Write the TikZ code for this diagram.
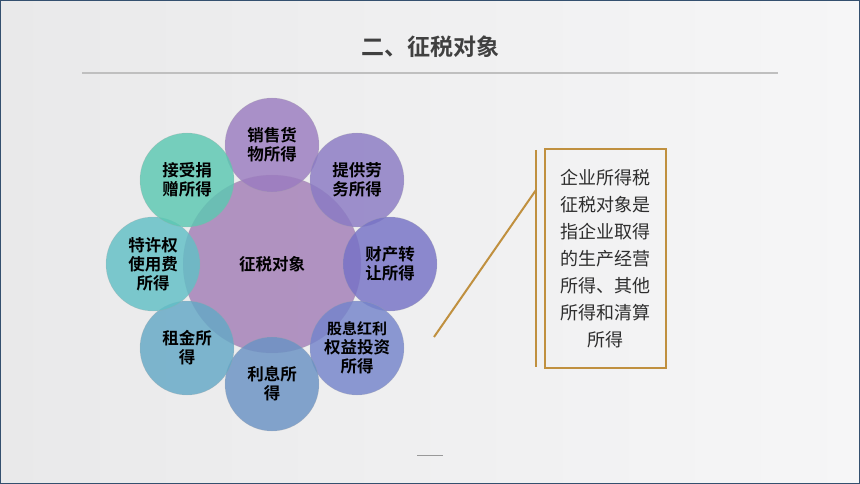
\documentclass[tikz,border=0pt]{standalone}
\usepackage{fontspec}
\setmainfont[BoldFont={Noto Sans CJK SC Bold}]{Noto Sans CJK SC}
\definecolor{bgA}{HTML}{E9E9EA}
\definecolor{bgB}{HTML}{F6F6F7}
\definecolor{frame}{HTML}{34506F}
\definecolor{gold}{HTML}{C0903F}
\definecolor{cCenter}{HTML}{A683B9}
\definecolor{c1}{HTML}{9B7CC0}
\definecolor{c2}{HTML}{8A7AC4}
\definecolor{c3}{HTML}{7672C6}
\definecolor{c4}{HTML}{7484CB}
\definecolor{c5}{HTML}{6A92C4}
\definecolor{c6}{HTML}{64A8C6}
\definecolor{c7}{HTML}{62C0C6}
\definecolor{c8}{HTML}{5CC8B2}
\tikzset{
  bub/.style={circle, minimum size=94pt, inner sep=0pt, fill opacity=0.82, text opacity=1,
    draw=black!35, draw opacity=0.4, line width=0.4pt,
    font=\bfseries\fontsize{16.5}{19}\selectfont, align=center, text=black},
  hub/.style={circle, minimum size=178pt, inner sep=0pt, fill=cCenter, fill opacity=0.85, text opacity=1,
    draw=black!35, draw opacity=0.4, line width=0.4pt,
    font=\bfseries\fontsize{16.5}{19}\selectfont, text=black},
  goldline/.style={draw=gold, line width=2pt},
}
\begin{document}
\begin{tikzpicture}[x=1pt,y=-1pt]
\useasboundingbox (0,0) rectangle (860,484);
\shade[left color=bgA, right color=bgB] (0,0) rectangle (860,484);
\draw[frame, line width=2.5pt] (0,0) rectangle (860,484);
% title
\node[font=\bfseries\fontsize{23}{27}\selectfont, text=black!75] (title) at (430,47) {二、征税对象};
\coordinate (tl) at (82,73);
\coordinate (tr) at (778,73);
\draw[black!25, line width=1.2pt] (tl) -- (tr);
% center
\node[hub] (hub) at (272,264) {征税对象};
% outer bubbles
\node[bub, fill=c1] (b1) at (272,145) {销售货\\物所得};
\node[bub, fill=c2] (b2) at (357,180) {提供劳\\务所得};
\node[bub, fill=c3] (b3) at (390,264) {财产转\\让所得};
\node[bub, fill=c4] (b4) at (357,348) {\fontsize{15}{18}\selectfont 股息红利\\权益投资\\所得};
\node[bub, fill=c5] (b5) at (272,384) {利息所\\得};
\node[bub, fill=c6] (b6) at (187,348) {租金所\\得};
\node[bub, fill=c7] (b7) at (153,264) {特许权\\使用费\\所得};
\node[bub, fill=c8] (b8) at (187,180) {接受捐\\赠所得};
% callout
\coordinate (d0) at (434,337);
\coordinate (d1) at (536,190);
\coordinate (v0) at (536,150);
\coordinate (v1) at (536,367);
\draw[goldline] (d0) -- (d1);
\draw[goldline] (v0) -- (v1);
\node[draw=gold, line width=2pt, minimum width=121pt, minimum height=219pt, inner sep=0pt] (box) at (605.5,258.5) {};
\node[align=center, text=black!82, font=\fontsize{18}{27}\selectfont] (boxtext) at (box.center)
  {企业所得税\\征税对象是\\指企业取得\\的生产经营\\所得、其他\\所得和清算\\所得};
\coordinate (s0) at (417,455);
\coordinate (s1) at (443,455);
\draw[black!40, line width=0.8pt] (s0) -- (s1);
\end{tikzpicture}
\end{document}
